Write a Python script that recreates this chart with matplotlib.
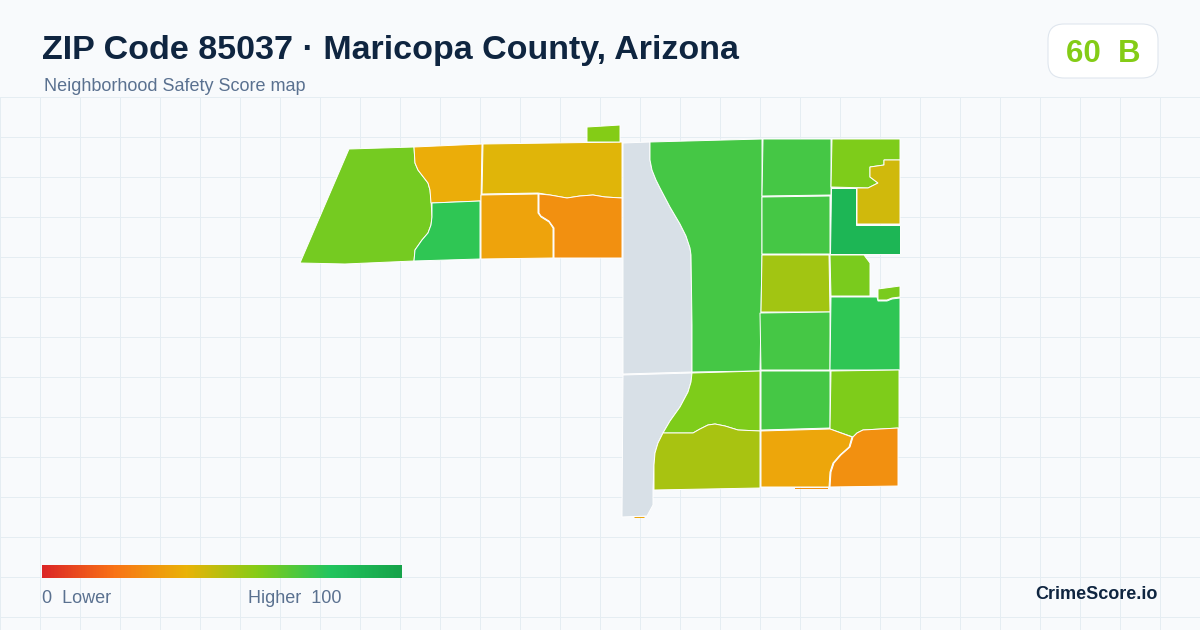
import numpy as np
import matplotlib
matplotlib.use("Agg")
import matplotlib.pyplot as plt
from matplotlib.colors import LinearSegmentedColormap
from matplotlib.patches import Polygon, FancyBboxPatch

plt.rcParams["font.family"] = ["Liberation Sans", "DejaVu Sans"]

# Texts
title = "ZIP Code 85037 · Maricopa County, Arizona"
subtitle = "Neighborhood Safety Score map"
badge = "60  B"
brand = "CrimeScore.io"
legend_low = "0  Lower"
legend_high = "Higher  100"

# Score colour ramp
ramp_stops = [0.0, 0.2, 0.4, 0.6, 0.8, 1.0]
ramp_colors = ["#dc2626", "#f97316", "#eab308", "#84cc16", "#22c55e", "#16a34a"]

# Shared curved boundaries, in pixels
west_curve = [(414, 147), (415, 163), (418, 170), (428, 183), (430, 190), (431, 200), (432, 217), (431, 225), (428, 233), (422, 240), (415, 250), (414, 261)]
wave_north = [(482, 194), (538, 193), (550, 195), (567, 198), (580, 196), (593, 195), (605, 197), (622, 198)]
river_curve_n = [(650, 142), (650, 160), (652, 170), (656, 180), (660, 188), (670, 207), (680, 224), (686, 236), (690, 248), (691, 255), (692, 325), (692, 372)]
river_curve_s = [(692, 373), (691, 382), (688, 392), (680, 407), (670, 421), (663, 433)]
wave_south = [(663, 433), (693, 433), (700, 429), (708, 425), (715, 424), (725, 426), (738, 430), (760, 431)]
notch_curve = [(900, 160), (884, 160), (884, 165), (870, 167), (870, 177), (878, 183), (868, 188)]
south_curve = [(852, 437), (849, 447), (840, 455), (833, 463), (830, 472), (829, 487)]

# Map areas: outline, score estimated from colour
west_big = [(349, 149)] + west_curve + [(345, 264), (300, 263)]
west_top = [(414, 147), (482, 144), (481, 201), (431, 203), (430, 190), (428, 183), (418, 170), (415, 163)]
west_green = [(432, 203), (480, 201), (480, 259), (414, 261), (415, 250), (422, 240), (428, 233), (431, 225), (432, 217)]
mid_top = [(483, 144), (622, 142)] + wave_north[::-1]
mid_left = [(481, 195), (538, 194), (538, 213), (541, 217), (549, 222), (553, 228), (553, 258), (481, 259)]
mid_right = [(539, 194)] + wave_north[2:] + [(622, 258), (554, 258), (554, 228), (549, 221), (541, 216), (539, 213)]
top_stub = [(587, 127), (604, 126), (620, 125), (620, 142), (587, 142)]
river_north = [(623, 143)] + river_curve_n + [(623, 374)]
river_south = [(623, 375)] + river_curve_s + [(658, 443), (655, 453), (654, 465), (653, 490), (653, 505), (647, 516), (622, 517)]
east_big = [river_curve_n[-1], (760, 371), (761, 313), (762, 254), (762, 139)] + river_curve_n[:-1]
col2_a = [(763, 139), (831, 139), (831, 195), (762, 196)]
col2_b = [(762, 197), (830, 196), (830, 254), (762, 254)]
col2_c = [(762, 255), (829, 255), (830, 312), (761, 312)]
col2_d = [(760, 313), (830, 312), (830, 370), (761, 370)]
col3_top = [(832, 139), (900, 139)] + notch_curve + [(831, 187)]
col3_yellow = notch_curve + [(857, 188), (857, 224), (900, 224)]
col3_dark = [(831, 188), (856, 188), (856, 225), (900, 225), (900, 254), (830, 254)]
col3_lime = [(830, 255), (864, 255), (870, 263), (870, 296), (831, 296)]
col3_stub = [(878, 289), (900, 286), (900, 297), (892, 298), (887, 300), (878, 300)]
col3_green = [(831, 297), (877, 297), (878, 301), (887, 301), (892, 299), (900, 298), (900, 370), (830, 370)]
south_lime = river_curve_s + wave_south[1:] + [(760, 371)]
south_olive = wave_south + [(760, 488), (654, 490), (654, 465), (655, 453), (658, 443)]
south_green = [(761, 371), (830, 371), (830, 428), (761, 430)]
south_right = [(831, 371), (899, 370), (899, 428), (863, 430), (857, 433), (853, 437), (830, 429)]
south_yellow = [(761, 431), (830, 429)] + south_curve + [(761, 487)]
south_orange = [(853, 437), (857, 433), (863, 430), (898, 428), (898, 486), (830, 487), (831, 472), (834, 463), (841, 455), (850, 447)]
sliver_a = [(795, 488), (828, 488), (828, 489), (795, 489)]
sliver_b = [(634, 517), (645, 517), (644, 518), (635, 518)]

areas = [west_big, west_top, west_green, mid_top, mid_left, mid_right, top_stub, east_big,
         col2_a, col2_b, col2_c, col2_d, col3_top, col3_yellow, col3_dark, col3_lime,
         col3_stub, col3_green, south_lime, south_olive, south_green, south_right,
         south_yellow, south_orange]
scores = [63, 38, 77, 42, 35, 29, 60, 73,
          73, 73, 54, 73, 61, 45, 89, 62,
          62, 77, 61, 53, 73, 61,
          36, 29]
no_data_areas = [river_north, river_south]
slivers = [sliver_a, sliver_b]
sliver_scores = [29, 36]

cmap = LinearSegmentedColormap.from_list("score", list(zip(ramp_stops, ramp_colors)))

fig = plt.figure(figsize=(12, 6.3), dpi=100, facecolor="#f8fafc")
ax = fig.add_axes([0, 0, 1, 1])
ax.set_xlim(0, 1200)
ax.set_ylim(630, 0)
ax.axis("off")

# Background grid
for x in range(0, 1200, 40):
    ax.plot([x, x], [97, 630], color="#e5edf2", lw=0.72, zorder=1)
for y in range(97, 630, 40):
    ax.plot([0, 1200], [y, y], color="#e5edf2", lw=0.72, zorder=1)

# Map
for area in no_data_areas:
    ax.add_patch(Polygon(area, closed=True, facecolor="#d8e0e7", edgecolor="white", lw=0.7, zorder=2))
for area, score in zip(areas, scores):
    ax.add_patch(Polygon(area, closed=True, facecolor=cmap(score / 100), edgecolor="white", lw=0.7, zorder=3))
for area, score in zip(slivers, sliver_scores):
    ax.add_patch(Polygon(area, closed=True, facecolor=cmap(score / 100), edgecolor="none", zorder=3))

# Header
ax.text(42, 59.5, title, fontsize=24.5, fontweight="bold", color="#0f2540", zorder=5)
ax.text(44, 91, subtitle, fontsize=12.95, color="#5a7190", zorder=5)

# Score badge
ax.add_patch(FancyBboxPatch((1064, 40), 78, 22, boxstyle="round,pad=16,rounding_size=16",
                            facecolor="white", edgecolor="#dfe6ee", lw=0.8, zorder=4))
ax.text(1103, 51, badge, fontsize=22.5, fontweight="bold", color="#84cc16",
        ha="center", va="center_baseline", zorder=5)

# Legend bar
gradient = np.linspace(0, 1, 360).reshape(1, -1)
ax.imshow(gradient, cmap=cmap, extent=(42, 402, 578, 565), aspect="auto", zorder=4)
ax.set_xlim(0, 1200)
ax.set_ylim(630, 0)
ax.text(42, 603, legend_low, fontsize=12.95, color="#5a7190", zorder=5)
ax.text(342, 603, legend_high, fontsize=12.95, color="#5a7190", ha="right", zorder=5)

ax.text(1158, 599, brand, fontsize=13, fontweight="bold", color="#0f2540", ha="right", zorder=5)

fig.savefig("out.png", dpi=100, facecolor=fig.get_facecolor())
